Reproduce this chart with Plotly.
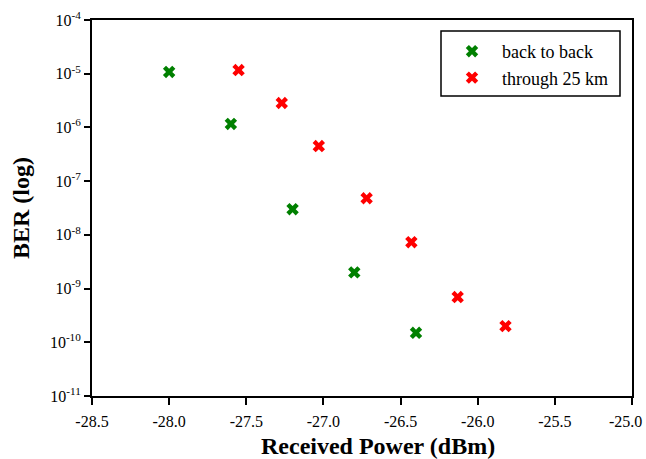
import plotly.graph_objects as go

# Measured BER versus received optical power
b2b_power = [-28.0, -27.6, -27.2, -26.8, -26.4]
b2b_ber = [1.08e-5, 1.16e-6, 3.0e-8, 2.0e-9, 1.5e-10]

fiber_power = [-27.55, -27.27, -27.03, -26.72, -26.43, -26.13, -25.82]
fiber_ber = [1.17e-5, 2.85e-6, 4.5e-7, 4.8e-8, 7.3e-9, 6.95e-10, 2.0e-10]

series_names = ["back to back", "through 25 km"]

x_ticks = [-28.5, -28.0, -27.5, -27.0, -26.5, -26.0, -25.5, -25.0]
y_exponents = [-11, -10, -9, -8, -7, -6, -5, -4]

x_title = "Received Power (dBm)"
y_title = "BER (log)"

serif = "Liberation Serif"

fig = go.Figure()
fig.add_trace(go.Scatter(
    x=b2b_power, y=b2b_ber, mode="markers", name=series_names[0],
    marker=dict(symbol="x", size=11, color="#008000", line=dict(width=0)),
))
fig.add_trace(go.Scatter(
    x=fiber_power, y=fiber_ber, mode="markers", name=series_names[1],
    marker=dict(symbol="x", size=11, color="#ff0000", line=dict(width=0)),
))

W, H = 646, 459
ml, mr, mt, mb = 92, 14, 20, 63
pw, ph = W - ml - mr, H - mt - mb

def px_x(v):
    return (v - ml) / pw

def px_y(v):
    return (H - mb - v) / ph

# legend frame
fig.add_shape(type="rect", xref="paper", yref="paper",
              x0=px_x(441), x1=px_x(620), y0=px_y(96), y1=px_y(31),
              line=dict(color="black", width=1.5), fillcolor="white", layer="below")

# x tick labels; the last one sits at the page edge, so it is drawn
# right-aligned under its tick instead of centred
x_ticktext = [f"{v:.1f}" for v in x_ticks]
last_label = x_ticktext[-1]
x_ticktext[-1] = ""
fig.add_annotation(
    text=last_label, xref="x", yref="paper",
    x=x_ticks[-1], y=px_y(421.5), xanchor="right", yanchor="middle",
    xshift=12, showarrow=False, font=dict(family=serif, size=16, color="black"),
)

# horizontal axis title, set slightly right of the plot centre
fig.add_annotation(
    text=f"<b>{x_title}</b>", xref="paper", yref="paper",
    x=px_x(378), y=px_y(446), xanchor="center", yanchor="middle",
    showarrow=False, font=dict(family=serif, size=24, color="black"),
)

fig.update_layout(
    width=W, height=H,
    margin=dict(l=ml, r=mr, t=mt, b=mb, autoexpand=False),
    paper_bgcolor="white", plot_bgcolor="white",
    font=dict(family=serif, size=16, color="black"),
    showlegend=True,
    legend=dict(
        x=px_x(442), y=px_y(33), xanchor="left", yanchor="top",
        bgcolor="rgba(0,0,0,0)", borderwidth=0,
        font=dict(family=serif, size=18, color="black"),
        itemwidth=50,
    ),
    xaxis=dict(
        range=[-28.5, -25.0],
        tickvals=x_ticks,
        ticktext=x_ticktext,
        ticks="outside", ticklen=7, tickwidth=2, tickcolor="black",
        showline=True, linecolor="black", linewidth=2, mirror=True,
        showgrid=False, zeroline=False, automargin=False,
        ticklabeloverflow="allow", ticklabelstandoff=3,
        tickfont=dict(family=serif, size=16),
    ),
    yaxis=dict(
        type="log",
        range=[-11, -4],
        tickvals=[10.0 ** e for e in y_exponents],
        ticktext=[f"10<sup>{e}</sup>" for e in y_exponents],
        ticks="outside", ticklen=6, tickwidth=2, tickcolor="black",
        showline=True, linecolor="black", linewidth=2, mirror=True,
        showgrid=False, zeroline=False, automargin=False,
        ticklabeloverflow="allow",
        tickfont=dict(family=serif, size=16),
        title=dict(text=f"<b>{y_title}</b>",
                   font=dict(family=serif, size=24), standoff=13),
    ),
)

fig.write_html("out.html")
